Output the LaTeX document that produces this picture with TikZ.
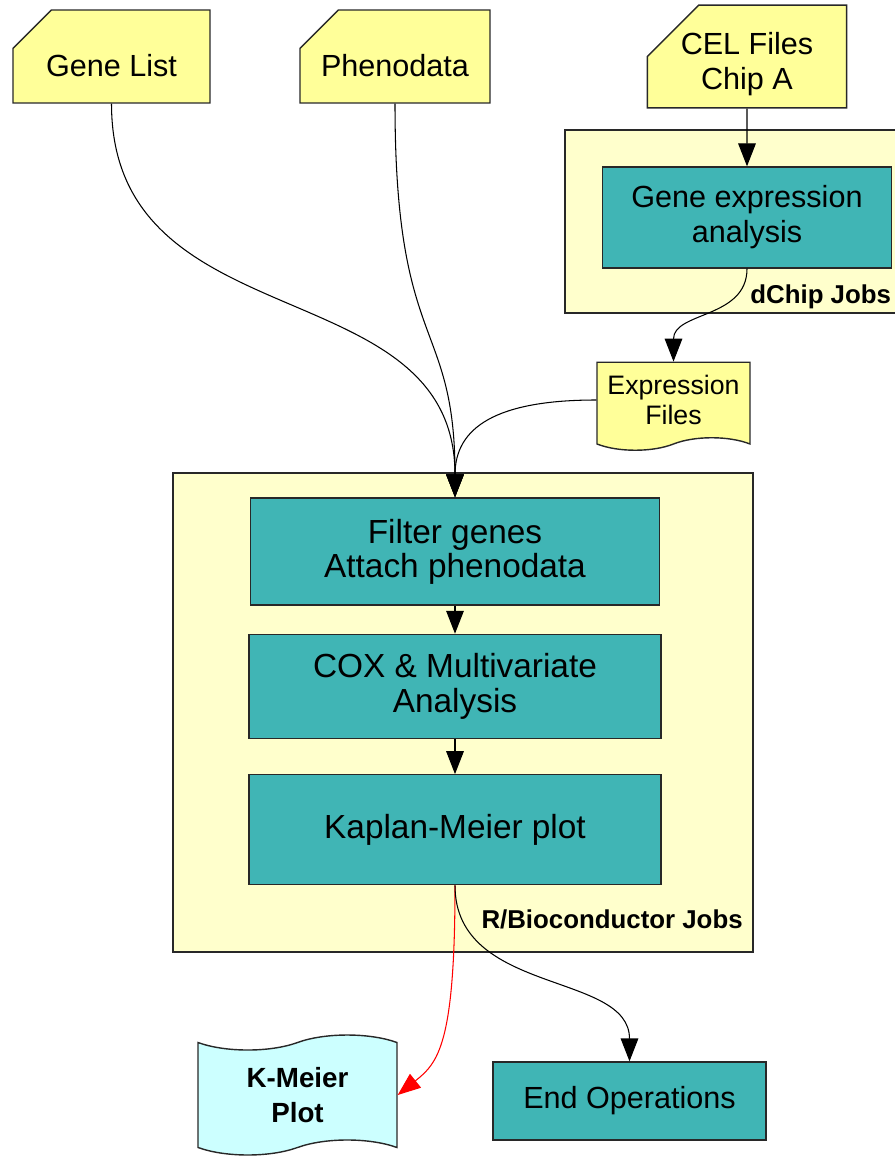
\documentclass[tikz,border=0pt]{standalone}
\usepackage{fontspec}
\setmainfont{Liberation Sans}
\usetikzlibrary{arrows.meta,positioning,shapes.misc,shapes.symbols}
\definecolor{cardyellow}{RGB}{255,255,153}
\definecolor{paleyellow}{RGB}{255,255,204}
\definecolor{jobteal}{RGB}{64,181,181}
\definecolor{plotcyan}{RGB}{204,255,255}
\definecolor{edgegray}{RGB}{40,40,40}
\tikzset{
	card/.style={chamfered rectangle, chamfered rectangle corners=north west,
			chamfered rectangle xsep=0.74cm, chamfered rectangle ysep=0.36cm,
			draw=edgegray, line width=0.8pt, fill=cardyellow, minimum height=1.86cm,
			align=center, inner sep=0pt, font=\fontsize{17.4}{20}\selectfont,
			execute at begin node=\rule{0pt}{23pt}},
	group/.style={draw=edgegray, line width=0.8pt, fill=paleyellow, inner sep=0pt},
	grouplabel/.style={inner sep=0pt, font=\bfseries\fontsize{14.7}{17}\selectfont},
	job/.style={draw=edgegray, line width=0.8pt, fill=jobteal, align=center,
			inner sep=0pt, font=\fontsize{17.4}{20}\selectfont},
	rjob/.style={job, minimum width=8.24cm, font=\fontsize{19}{19.5}\selectfont},
	paper/.style={tape, draw=edgegray, line width=0.8pt, align=center, inner sep=0pt},
	flow/.style={-{Triangle[length=13pt,width=10pt]}, line width=0.6pt},
}
\begin{document}
\begin{tikzpicture}[x=0.02cm,y=0.02cm]
	\useasboundingbox (0,0) rectangle (895,-1159);
	% job groups
	\node[group, minimum width=6.8cm, minimum height=3.66cm] (dchip) at (735,-221.5) {};
	\node[group, minimum width=11.6cm, minimum height=9.58cm] (rjobs) at (463,-712.5) {};
	\node[grouplabel, anchor=base west] (dchiplabel) at (750,-303) {dChip Jobs};
	\node[grouplabel, anchor=base east] (rjobslabel) at (743,-928) {R/Bioconductor Jobs};
	% input files
	\node[card, minimum width=3.94cm] (genelist) at (111.5,-56.5) {Gene List};
	\node[card, minimum width=3.8cm] (pheno) at (395,-56.5) {Phenodata};
	\node[card, minimum width=3.86cm, text height=38pt, text depth=-18pt] (cel) at (747,-56.5) {CEL Files\\Chip A};
	% dChip
	\node[job, minimum width=5.78cm, minimum height=2.02cm] (geneexp) at (747,-217.5) {Gene expression\\analysis};
	\node[paper, tape bend top=none, tape bend height=0.25cm, fill=cardyellow,
		minimum width=3.06cm, minimum height=1.76cm, font=\fontsize{15.2}{17}\selectfont]
		(expfiles) at (673.5,-400) {Expression\\Files};
	% R/Bioconductor
	\node[rjob, minimum width=8.18cm, minimum height=2.14cm] (filter) at (455,-551.5) {Filter genes\\Attach phenodata};
	\node[rjob, minimum height=2.08cm, below=0.56cm of filter] (cox) {COX \& Multivariate\\Analysis};
	\node[rjob, minimum height=2.2cm, below=0.7cm of cox] (km) {Kaplan-Meier plot};
	% outputs
	\node[paper, tape bend height=0.3cm, fill=plotcyan, minimum width=3.98cm, minimum height=2.4cm,
		font=\bfseries\fontsize{15.8}{20}\selectfont] (kmplot) at (297.5,-1095) {K-Meier\\Plot};
	\node[job, minimum width=5.46cm, minimum height=1.56cm] (endops) at (629.5,-1101) {End Operations};

	\draw[flow] (genelist.south) .. controls +(0,-240) and +(0,230) .. (filter.north);
	\draw[flow] (pheno.south) .. controls +(0,-250) and +(0,180) .. (filter.north);
	\draw[flow] (expfiles.west) .. controls +(-100,0) and +(0,70) .. (filter.north);
	\draw[flow] (cel) -- (geneexp);
	\draw[flow] (geneexp.south) .. controls +(0,-50) and +(0,50) .. (expfiles.north);
	\draw[flow] (filter) -- (cox);
	\draw[flow] (cox) -- (km);
	\draw[flow, red] (km.south) .. controls +(0,-160) and +(40,32) .. (kmplot.east);
	\draw[flow] (km.south) .. controls +(0,-110) and +(0,90) .. (endops.north);
\end{tikzpicture}
\end{document}
